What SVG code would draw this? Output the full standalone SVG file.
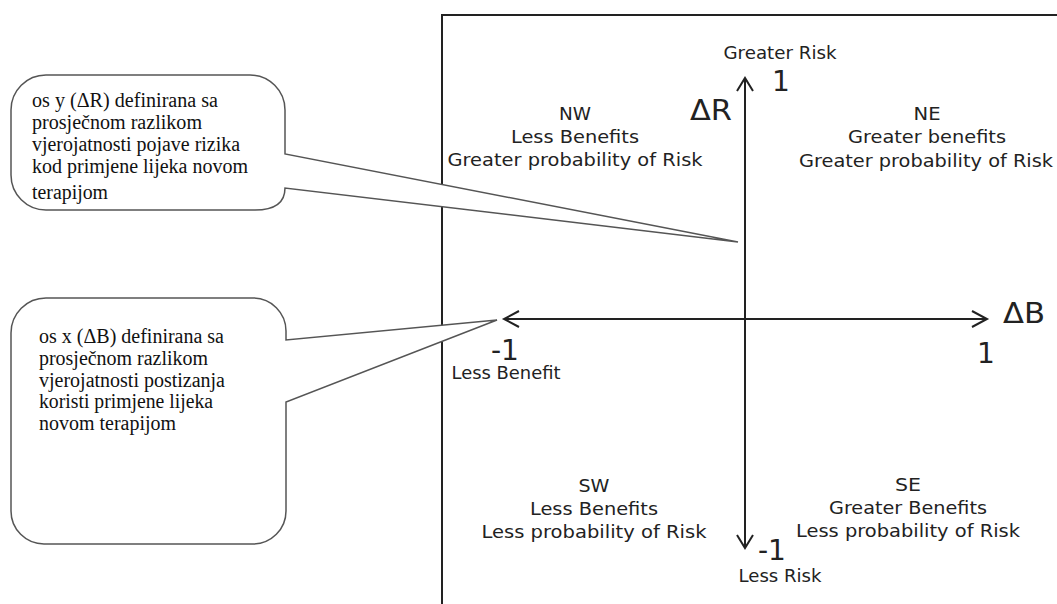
<svg xmlns="http://www.w3.org/2000/svg" width="1057" height="604" viewBox="0 0 1057 604">
<style>
.s{font-family:"DejaVu Sans","Verdana",sans-serif;font-size:17px;fill:#222;text-anchor:middle}
.b{font-family:"DejaVu Sans","Verdana",sans-serif;font-size:28px;fill:#222}
.t{font-family:"Liberation Serif","Times New Roman",serif;font-size:20px;fill:#111}
.ax{fill:none;stroke:#222;stroke-width:2}
.co{fill:#fff;stroke:#555;stroke-width:1.5;stroke-linejoin:miter}
</style>
<rect width="1057" height="604" fill="#fff"/>
<g id="frame">
<path d="M442,604 V15 H1057" fill="none" stroke="#222" stroke-width="2"/>
</g>
<g id="connectors">
<path class="ax" d="M745,78 V548"/>
<path class="ax" d="M737,91 L745,78 L753,91"/>
<path class="ax" d="M737,535 L745,548 L753,535"/>
<path class="ax" d="M504,319 H987"/>
<path class="ax" d="M519,311 L504,319 L519,327"/>
<path class="ax" d="M972,311 L987,319 L972,327"/>
</g>
<g id="axis-labels">
<text class="s" x="780" y="59" textLength="113" lengthAdjust="spacingAndGlyphs">Greater Risk</text>
<text class="b" x="772" y="91" font-size="30">1</text>
<text class="b" x="690" y="120" textLength="42" lengthAdjust="spacingAndGlyphs">ΔR</text>
<text class="b" x="1003" y="323" font-size="27" textLength="42" lengthAdjust="spacingAndGlyphs">ΔB</text>
<text class="b" x="977" y="363" font-size="27">1</text>
<text class="b" x="491" y="360" font-size="26">-1</text>
<text class="s" x="506" y="379" textLength="109" lengthAdjust="spacingAndGlyphs">Less Benefit</text>
<text class="b" x="758" y="560" font-size="29">-1</text>
<text class="s" x="780" y="582" textLength="83" lengthAdjust="spacingAndGlyphs">Less Risk</text>
</g>
<g id="NW">
<text class="s" x="575" y="120" textLength="32" lengthAdjust="spacingAndGlyphs">NW</text>
<text class="s" x="575" y="143" textLength="128" lengthAdjust="spacingAndGlyphs">Less Benefits</text>
<text class="s" x="575" y="166" textLength="255" lengthAdjust="spacingAndGlyphs">Greater probability of Risk</text>
</g>
<g id="NE">
<text class="s" x="927" y="120" textLength="27" lengthAdjust="spacingAndGlyphs">NE</text>
<text class="s" x="927" y="143" textLength="158" lengthAdjust="spacingAndGlyphs">Greater benefits</text>
<text class="s" x="926" y="167" textLength="254" lengthAdjust="spacingAndGlyphs">Greater probability of Risk</text>
</g>
<g id="SW">
<text class="s" x="594" y="492" textLength="31" lengthAdjust="spacingAndGlyphs">SW</text>
<text class="s" x="594" y="515" textLength="128" lengthAdjust="spacingAndGlyphs">Less Benefits</text>
<text class="s" x="594" y="538" textLength="225" lengthAdjust="spacingAndGlyphs">Less probability of Risk</text>
</g>
<g id="SE">
<text class="s" x="908" y="491" textLength="26" lengthAdjust="spacingAndGlyphs">SE</text>
<text class="s" x="908" y="514" textLength="158" lengthAdjust="spacingAndGlyphs">Greater Benefits</text>
<text class="s" x="908" y="537" textLength="224" lengthAdjust="spacingAndGlyphs">Less probability of Risk</text>
</g>
<g id="callout-y">
<path class="co" d="M46,75 H250 A35,35 0 0 1 285,110 V154 L738,242 L285,188 Q285,210 255,210 H46 A35,35 0 0 1 11,175 V110 A35,35 0 0 1 46,75 Z"/>
<text class="t" x="32" y="107" textLength="186" lengthAdjust="spacingAndGlyphs">os y (ΔR) definirana sa</text>
<text class="t" x="32" y="129" textLength="170" lengthAdjust="spacingAndGlyphs">prosječnom razlikom</text>
<text class="t" x="32" y="151" textLength="208" lengthAdjust="spacingAndGlyphs">vjerojatnosti pojave rizika</text>
<text class="t" x="32" y="173" textLength="216" lengthAdjust="spacingAndGlyphs">kod primjene lijeka novom</text>
<text class="t" x="32" y="199" textLength="76" lengthAdjust="spacingAndGlyphs">terapijom</text>
</g>
<g id="callout-x">
<path class="co" d="M46,298 H253 A33,33 0 0 1 286,331 V340 L497,320 L286,402 V511 A33,33 0 0 1 253,544 H44 A33,33 0 0 1 11,511 V333 A35,35 0 0 1 46,298 Z"/>
<text class="t" x="39" y="343" textLength="185" lengthAdjust="spacingAndGlyphs">os x (ΔB) definirana sa</text>
<text class="t" x="39" y="365" textLength="169" lengthAdjust="spacingAndGlyphs">prosječnom razlikom</text>
<text class="t" x="39" y="387" textLength="186" lengthAdjust="spacingAndGlyphs">vjerojatnosti postizanja</text>
<text class="t" x="39" y="408" textLength="174" lengthAdjust="spacingAndGlyphs">koristi primjene lijeka</text>
<text class="t" x="39" y="430" textLength="137" lengthAdjust="spacingAndGlyphs">novom terapijom</text>
</g>
</svg>
